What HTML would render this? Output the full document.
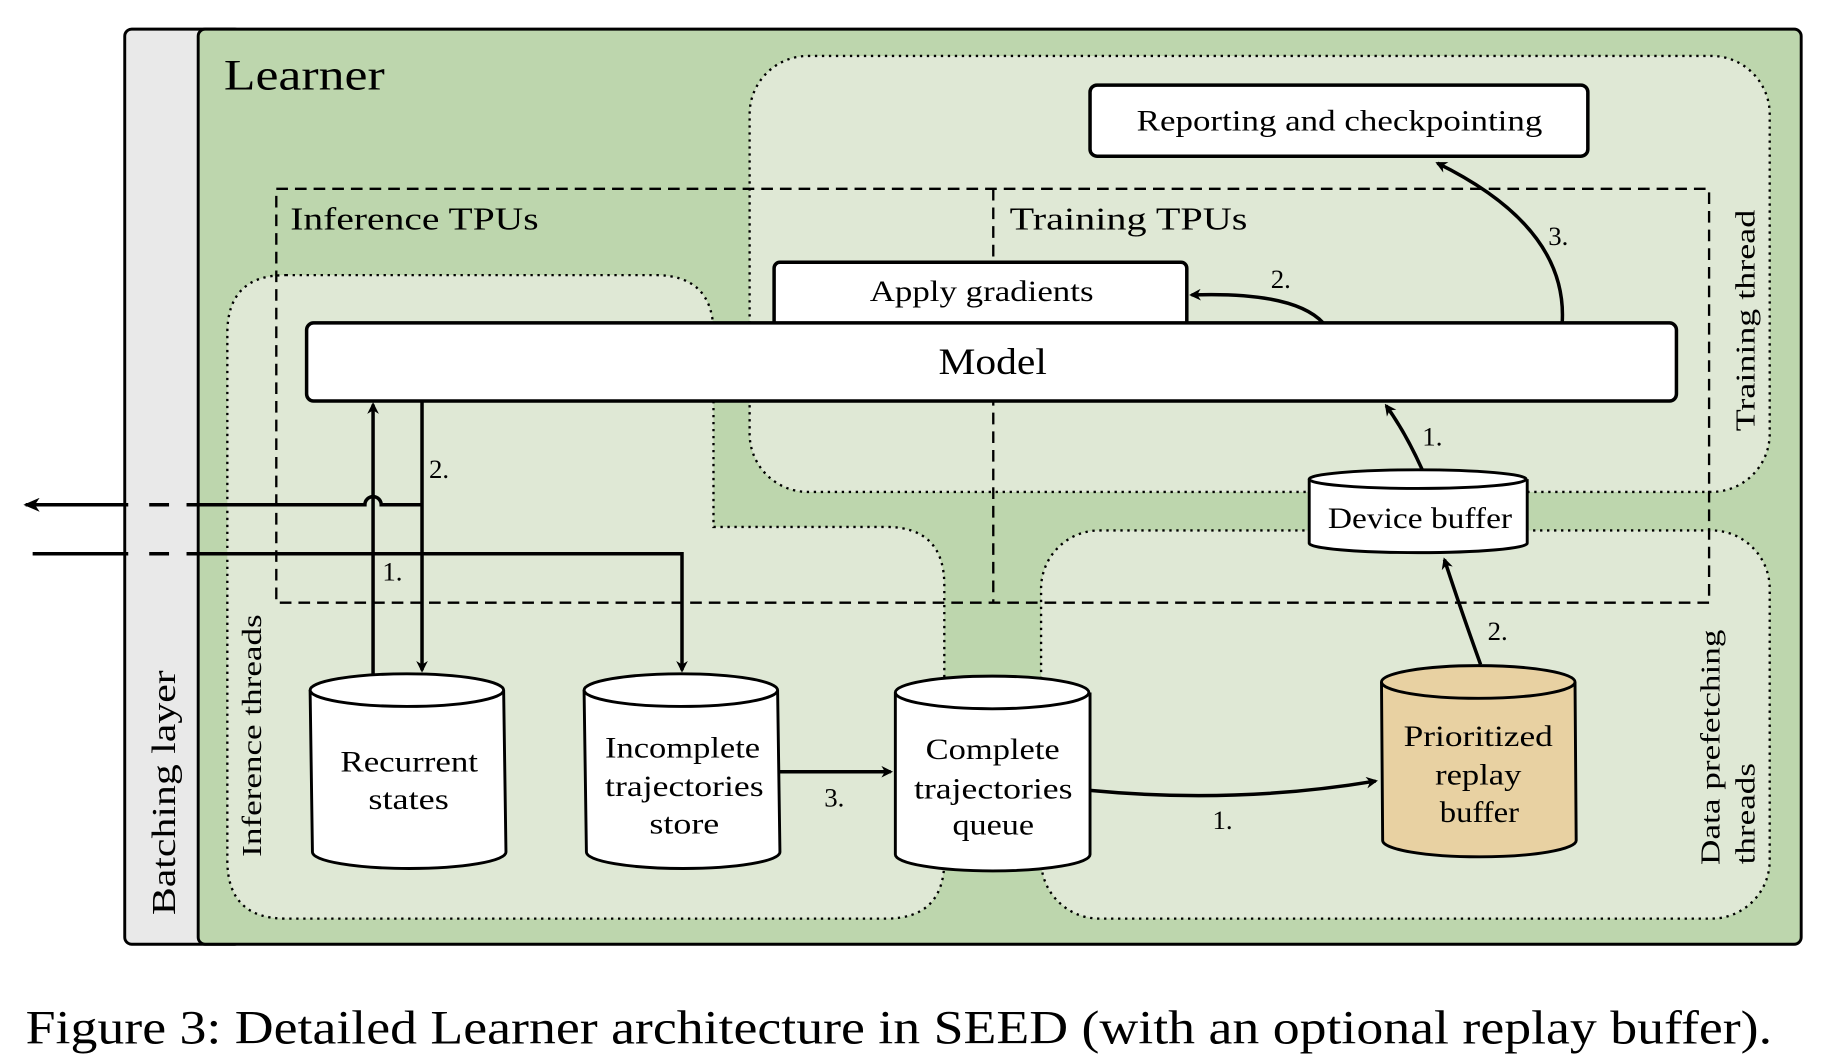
<!DOCTYPE html>
<html><head><style>body{margin:0;background:#fff}svg{display:block}</style></head><body>
<svg width="1828" height="1062" viewBox="0 0 1568 911" preserveAspectRatio="none" xmlns="http://www.w3.org/2000/svg" font-family="'Liberation Serif',serif">
<defs><marker id="a" markerWidth="10" markerHeight="10" refX="8" refY="5" orient="auto" markerUnits="userSpaceOnUse"><path d="M0,0 L10,5 L0,10 L3,5 z" fill="#000"/></marker>
<marker id="b" markerWidth="14" markerHeight="12" refX="12" refY="6" orient="auto" markerUnits="userSpaceOnUse"><path d="M0,0 L14,6 L0,12 L4,6 z" fill="#000"/></marker></defs>
<rect x="107" y="25" width="100" height="785" rx="6" fill="#e9e9e9" stroke="#000" stroke-width="2.5"/>
<rect x="170" y="25" width="1375" height="785" rx="6" fill="#bdd6ad" stroke="#000" stroke-width="2.5"/>
<text x="192" y="77" font-size="37" textLength="138" lengthAdjust="spacingAndGlyphs">Learner</text>
<text transform="translate(150,680) rotate(-90)" font-size="29" text-anchor="middle" textLength="210" lengthAdjust="spacingAndGlyphs">Batching layer</text>
<rect x="643" y="48" width="875" height="374" rx="50" fill="#dfe8d5" stroke="#000" stroke-width="2" stroke-dasharray="2,4"/>
<path d="M245,236 L562,236 Q612,236 612,286 L612,452 L760,452 Q810,452 810,502 L810,738 Q810,788 760,788 L245,788 Q195,788 195,738 L195,286 Q195,236 245,236 Z" fill="#dfe8d5" stroke="#000" stroke-width="2" stroke-dasharray="2,4"/>
<rect x="893" y="455" width="625" height="333" rx="50" fill="#dfe8d5" stroke="#000" stroke-width="2" stroke-dasharray="2,4"/>
<g font-size="24" text-anchor="middle">
<text transform="translate(224,631) rotate(-90)" textLength="208" lengthAdjust="spacingAndGlyphs">Inference threads</text>
<text transform="translate(1505,275) rotate(-90)" textLength="190" lengthAdjust="spacingAndGlyphs">Training thread</text>
<text transform="translate(1475,641) rotate(-90)" textLength="202" lengthAdjust="spacingAndGlyphs">Data prefetching</text>
<text transform="translate(1505,698) rotate(-90)" textLength="87" lengthAdjust="spacingAndGlyphs">threads</text>
</g>
<rect x="237" y="162" width="1229" height="355" fill="none" stroke="#000" stroke-width="2" stroke-dasharray="10,6"/>
<line x1="852" y1="162" x2="852" y2="517" stroke="#000" stroke-width="2" stroke-dasharray="10,6"/>
<text x="249" y="197" font-size="27" textLength="213" lengthAdjust="spacingAndGlyphs">Inference TPUs</text>
<text x="866" y="197" font-size="27" textLength="204" lengthAdjust="spacingAndGlyphs">Training TPUs</text>
<rect x="935" y="73" width="427" height="61" rx="6" fill="#fff" stroke="#000" stroke-width="3"/>
<text x="975" y="112" font-size="25" textLength="348" lengthAdjust="spacingAndGlyphs">Reporting and checkpointing</text>
<rect x="664" y="225" width="354" height="70" rx="5" fill="#fff" stroke="#000" stroke-width="3"/>
<text x="746" y="258" font-size="25" textLength="192" lengthAdjust="spacingAndGlyphs">Apply gradients</text>
<rect x="263" y="277" width="1175" height="67" rx="6" fill="#fff" stroke="#000" stroke-width="3"/>
<text x="805" y="321" font-size="32" textLength="93" lengthAdjust="spacingAndGlyphs">Model</text>
<g stroke="#000" stroke-width="2.5" fill="#fff">
<path d="M1123,411 L1123,466 A93,8 0 0 0 1310,466 L1310,411"/><ellipse cx="1216" cy="411" rx="93" ry="8"/>
<path d="M266,592 L268,731 A83,14 0 0 0 434,731 L432,592"/><ellipse cx="349" cy="592" rx="83" ry="14"/>
<path d="M501,592 L503,731 A83,14 0 0 0 669,731 L667,592"/><ellipse cx="584" cy="592" rx="83" ry="14"/>
<path d="M768,594 L768,733 A83,14 0 0 0 935,733 L935,594"/><ellipse cx="851" cy="594" rx="83" ry="14"/>
<path d="M1185,585 L1186,721 A83,14 0 0 0 1352,721 L1351,585" fill="#e8d1a2"/><ellipse cx="1268" cy="585" rx="83" ry="14" fill="#e8d1a2"/>
</g>
<g font-size="25" lengthAdjust="spacingAndGlyphs">
<text x="1139" y="453" textLength="158" lengthAdjust="spacingAndGlyphs">Device buffer</text>
<text x="292" y="662" textLength="118" lengthAdjust="spacingAndGlyphs">Recurrent</text><text x="316" y="694" textLength="69" lengthAdjust="spacingAndGlyphs">states</text>
<text x="519" y="650" textLength="133" lengthAdjust="spacingAndGlyphs">Incomplete</text><text x="519" y="683" textLength="136" lengthAdjust="spacingAndGlyphs">trajectories</text><text x="557" y="715" textLength="60" lengthAdjust="spacingAndGlyphs">store</text>
<text x="794" y="651" textLength="115" lengthAdjust="spacingAndGlyphs">Complete</text><text x="784" y="685" textLength="136" lengthAdjust="spacingAndGlyphs">trajectories</text><text x="817" y="716" textLength="70" lengthAdjust="spacingAndGlyphs">queue</text>
<text x="1204" y="640" textLength="128" lengthAdjust="spacingAndGlyphs">Prioritized</text><text x="1231" y="673" textLength="74" lengthAdjust="spacingAndGlyphs">replay</text><text x="1235" y="705" textLength="68" lengthAdjust="spacingAndGlyphs">buffer</text>
</g>
<g stroke="#000" stroke-width="3" fill="none">
<path d="M362,433 L327,433 A7,7 0 0 0 313,433 L160,433" />
<line x1="145" y1="433" x2="128" y2="433"/>
<line x1="110" y1="433" x2="22" y2="433" marker-end="url(#b)"/>
<line x1="28" y1="475" x2="110" y2="475"/><line x1="128" y1="475" x2="145" y2="475"/>
<path d="M160,475 L585,475 L585,575" marker-end="url(#a)"/>
<line x1="362" y1="344" x2="362" y2="575" marker-end="url(#a)"/>
<line x1="320" y1="578" x2="320" y2="347" marker-end="url(#a)"/>
<line x1="669" y1="662" x2="764" y2="662" marker-end="url(#a)"/>
<path d="M935,678 Q1060,690 1180,670" marker-end="url(#a)"/>
<path d="M1270,570 Q1252,520 1239,480" marker-end="url(#a)"/>
<path d="M1220,403 Q1205,370 1189,348" marker-end="url(#a)"/>
<path d="M1135,277 Q1110,250 1022,253" marker-end="url(#a)"/>
<path d="M1340,277 Q1345,195 1233,140" marker-end="url(#a)"/>
</g>
<g font-size="23">
<text x="368" y="410">2.</text><text x="328" y="498">1.</text>
<text x="707" y="692">3.</text><text x="1040" y="711">1.</text>
<text x="1276" y="549">2.</text><text x="1220" y="382">1.</text>
<text x="1090" y="247">2.</text><text x="1328" y="210">3.</text>
</g>
<text x="22" y="895" font-size="41" textLength="1498" lengthAdjust="spacingAndGlyphs">Figure 3: Detailed Learner architecture in SEED (with an optional replay buffer).</text>
</svg>
</body></html>
